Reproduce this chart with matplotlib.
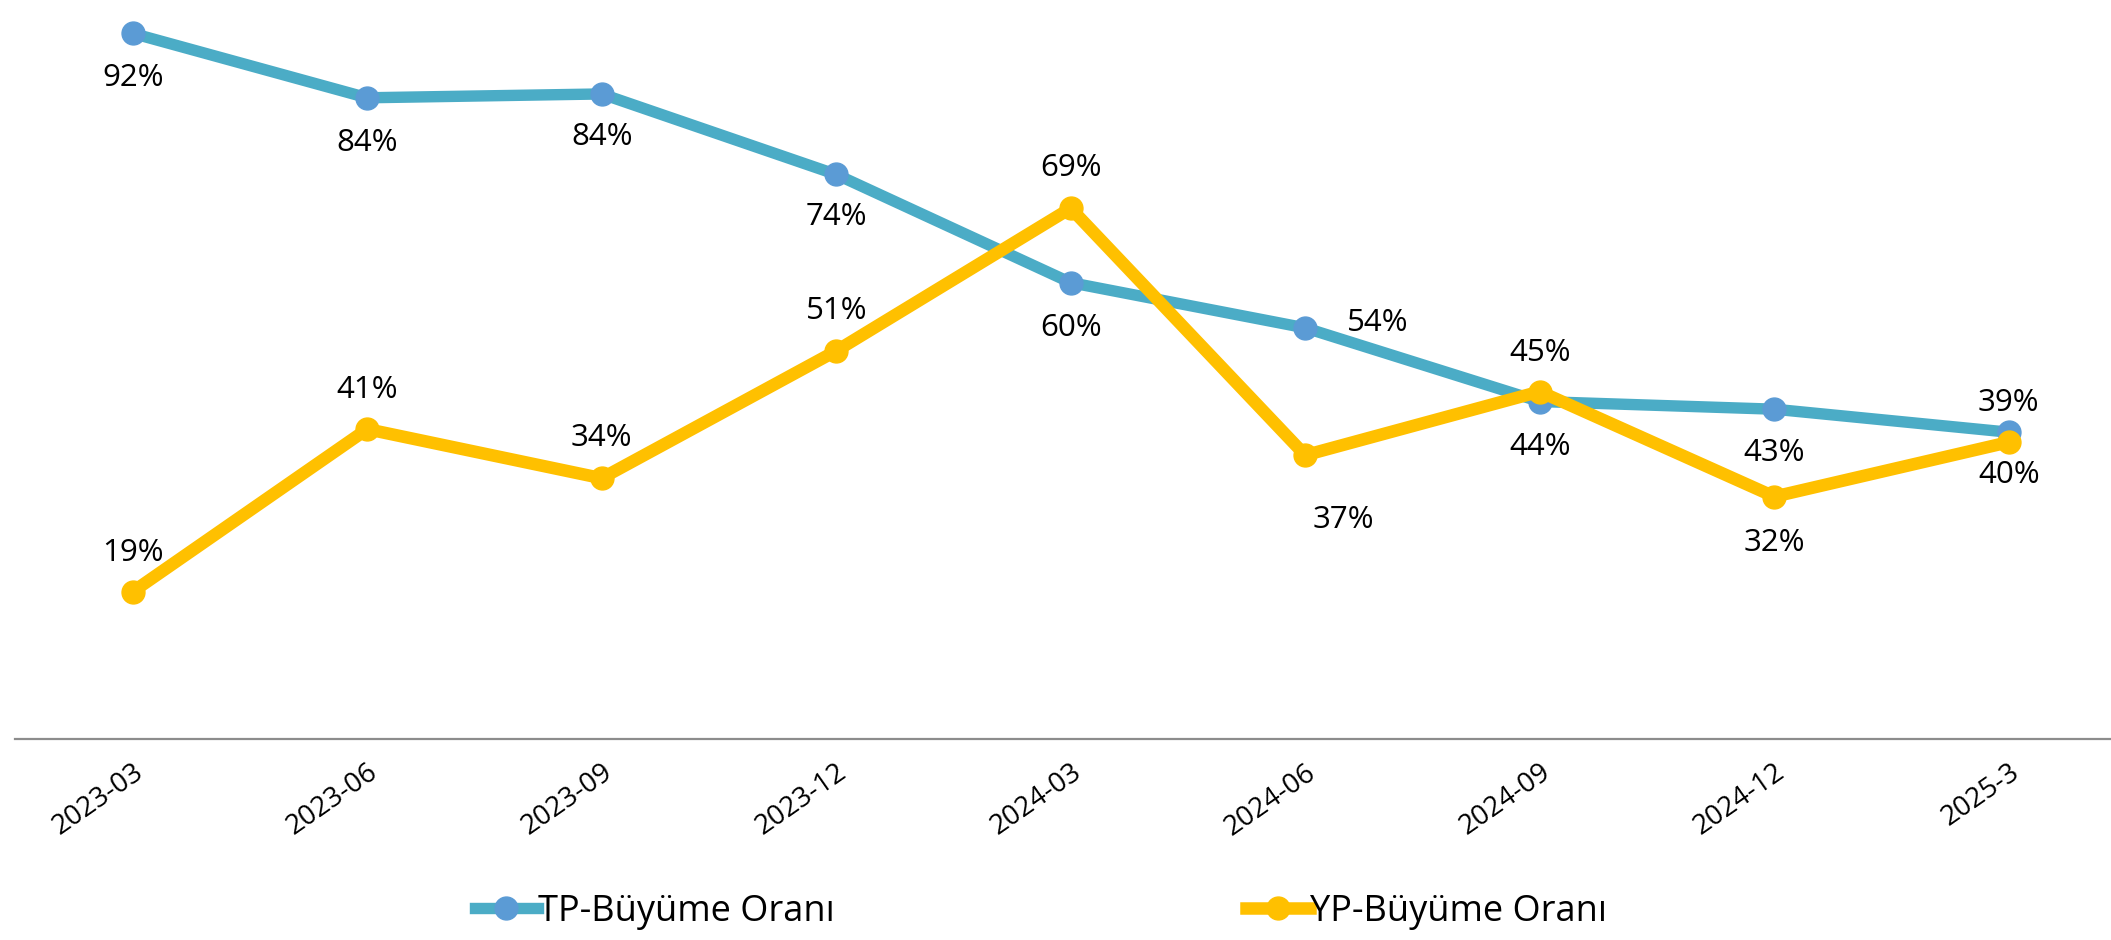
import matplotlib
matplotlib.use("Agg")
import matplotlib.pyplot as plt

plt.rcParams['font.family'] = ['Open Sans', 'DejaVu Sans']

# ==========================================
# DATA
# ==========================================
periods = ['2023-03', '2023-06', '2023-09', '2023-12', '2024-03',
           '2024-06', '2024-09', '2024-12', '2025-3']

tp_growth = [92.0, 83.6, 84.1, 73.6, 59.5, 53.6, 44.0, 43.0, 40.0]
yp_growth = [19.2, 40.4, 34.0, 50.6, 69.2, 37.0, 45.3, 31.6, 38.7]

tp_labels = ['92%', '84%', '84%', '74%', '60%', '54%', '44%', '43%', '39%']
yp_labels = ['19%', '41%', '34%', '51%', '69%', '37%', '45%', '32%', '40%']

tp_name = 'TP-Büyüme Oranı'
yp_name = 'YP-Büyüme Oranı'

# ==========================================
# STYLE
# ==========================================
W, H, DPI = 2111, 940, 100
TP_LINE = '#4BACC6'
TP_MARK = '#5B9BD5'
YP_COLOR = '#FFC000'

# label offsets in pixels (dx, dy)
tp_off = [(0, -45), (0, -45), (0, -43), (0, -43), (0, -45),
          (72, 5), (0, -45), (0, -44), (0, 29)]
yp_off = [(0, 39), (0, 39), (0, 40), (0, 40), (0, 40),
          (38, -65), (0, 39), (0, -46), (0, -33)]

fig = plt.figure(figsize=(W / DPI, H / DPI), dpi=DPI)
# axis line sits at 739 px from top, plot runs to the top edge
ax = fig.add_axes([15.4 / W, (H - 739) / H, (2126 - 15.4) / W, 739 / H])

x = list(range(len(periods)))
ax.plot(x, tp_growth, '-o', color=TP_LINE, lw=8.2, ms=16.5,
        mfc=TP_MARK, mec=TP_MARK, label=tp_name)
ax.plot(x, yp_growth, '-o', color=YP_COLOR, lw=9, ms=16.5,
        mfc=YP_COLOR, mec=YP_COLOR, label=yp_name)

for xi, v, t, o in zip(x, tp_growth, tp_labels, tp_off):
    ax.annotate(t, (xi, v), xytext=o, textcoords='offset pixels',
                ha='center', va='center', fontsize=22.5, color='black')
for xi, v, t, o in zip(x, yp_growth, yp_labels, yp_off):
    ax.annotate(t, (xi, v), xytext=o, textcoords='offset pixels',
                ha='center', va='center', fontsize=22.5, color='black')

ax.set_xlim(-0.5, len(periods) - 0.5)
ax.set_ylim(0, 739 / 7.67)
ax.set_xticks(x)
ax.set_xticklabels(periods, rotation=35, ha='right', rotation_mode='anchor',
                   fontsize=20)
ax.tick_params(axis='x', length=0, pad=14)
ax.set_yticks([])
for s in ['top', 'left', 'right']:
    ax.spines[s].set_visible(False)
ax.spines['bottom'].set_color('#8c8c8c')
ax.spines['bottom'].set_linewidth(1.6)
ax.patch.set_alpha(0)

fig.legend(loc='center', bbox_to_anchor=(0.493, 0.03), ncol=2, frameon=False,
           fontsize=26, handlelength=1.75, handletextpad=0.0,
           columnspacing=11.4)

fig.savefig('out.png', dpi=DPI)
